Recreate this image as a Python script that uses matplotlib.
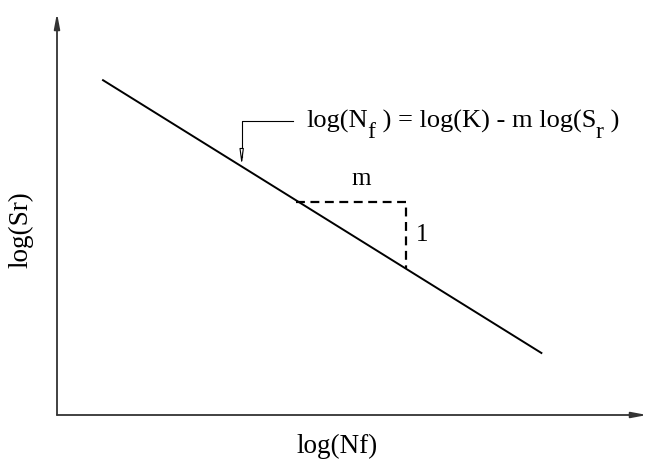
import numpy as np
import matplotlib.pyplot as plt

plt.rcParams['font.family'] = ['Liberation Serif', 'DejaVu Serif']

# S-N curve (schematic, log-log units)
log_nf = [0.78, 8.21]
log_sr = [5.83, 1.08]

# slope triangle
tri_x = [4.05, 5.92, 5.92]
tri_y = [3.71, 3.71, 2.56]

# equation call-out
arrow_tip = (3.13, 4.35)
leader_x = [4.0, 3.13, 3.13]
leader_y = [5.12, 5.12, 4.5]
# (text, is_subscript)
equation = [("log(N", False), ("f", True), (" ) = log(K) - m log(S", False),
            ("r", True), (" )", False)]

W, H = 648, 461
fig = plt.figure(figsize=(W/100, H/100), dpi=100)
ax = fig.add_axes([57/W, 46/H, 590/W, 402/H])
ax.set_xlim(0, 10)
ax.set_ylim(0, 7)
ax.axis('off')

# axes with arrowheads
for end in [(0, 7.0), (10.0, 0)]:
    ax.annotate('', xy=end, xytext=(0, 0),
                arrowprops=dict(arrowstyle='-|>,head_length=0.9,head_width=0.17',
                                color='#333333', lw=1.3, shrinkA=0, shrinkB=0),
                annotation_clip=False)

ax.plot(log_nf, log_sr, color='black', lw=1.4)
ax.plot(tri_x, tri_y, color='black', lw=1.6, ls=(0, (4, 2.5)))
ax.text(5.15, 3.92, 'm', fontsize=18, ha='center', va='bottom')
ax.text(6.18, 3.13, '1', fontsize=18, ha='center', va='center')

ax.plot(leader_x, leader_y, color='black', lw=0.8)
ax.annotate('', xy=arrow_tip, xytext=(3.13, 4.6),
            arrowprops=dict(arrowstyle='-|>,head_length=0.9,head_width=0.12',
                            fc='white', ec='black', lw=0.8, shrinkA=0, shrinkB=0))

# equation laid out piece by piece so the subscripts can be large
renderer = fig.canvas.get_renderer()
fs = 19
x0, y0 = ax.transData.transform((4.22, 5.01))
for s, sub in equation:
    size = fs * 0.9 if sub else fs
    dy = fs * 0.42 * 100 / 72 if sub else 0
    t = fig.text(x0 / W, (y0 - dy) / H, s, fontsize=size, ha='left', va='baseline')
    x0 = t.get_window_extent(renderer).x1

fig.text(337/W, 1 - 446/H, 'log(Nf)', fontsize=19.5, ha='center', va='center')
fig.text(21/W, 1 - 230/H, 'log(Sr)', fontsize=19.5, ha='center', va='center',
         rotation=90)

fig.savefig('out.png', dpi=100)
